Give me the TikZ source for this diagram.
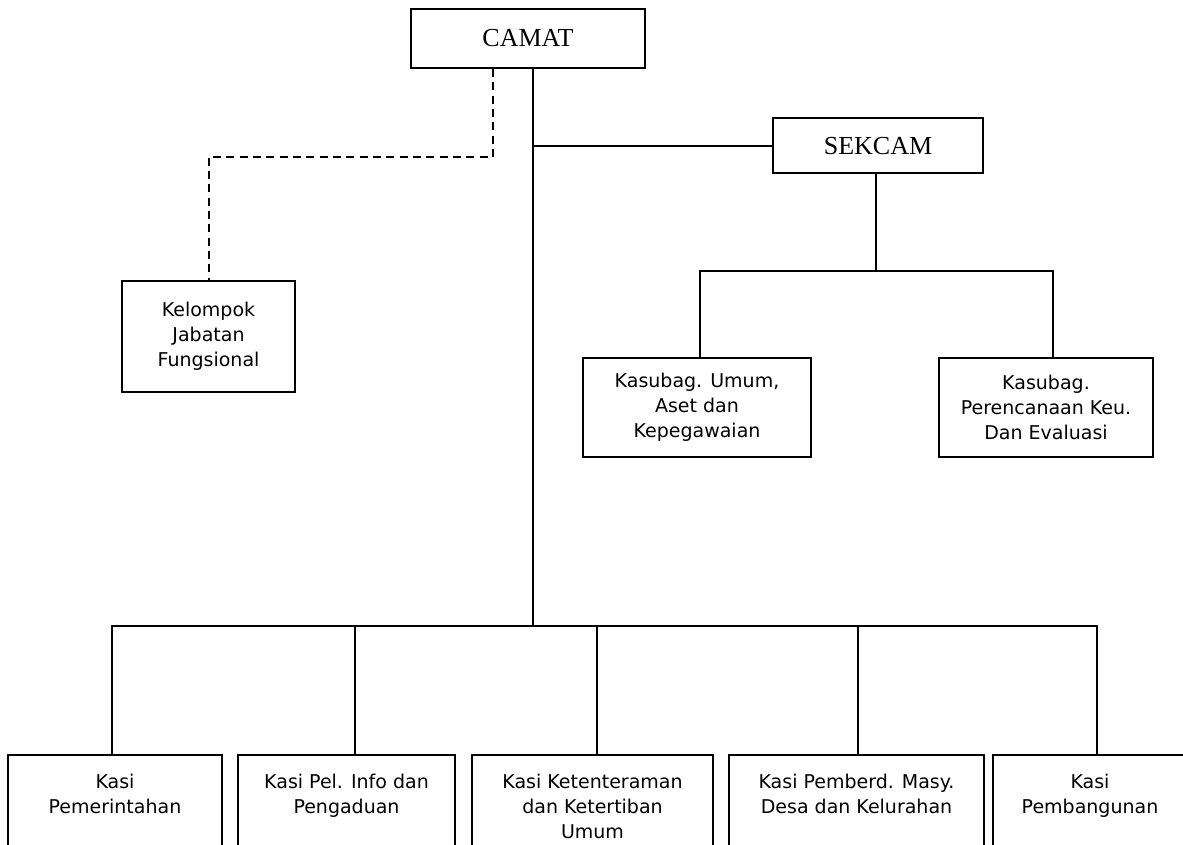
\documentclass[tikz,border=0pt]{standalone}
\usepackage{fontspec}
\newfontfamily\serifF{Liberation Serif}
\newfontfamily\sansF{DejaVu Sans}
\begin{document}
\begin{tikzpicture}[x=0.75pt,y=-0.75pt,
  line width=1.5pt,
  box/.style={draw, line width=1.5pt, inner sep=0pt},
  sz/.style 2 args={minimum width=#1*0.75pt, minimum height=#2*0.75pt},
  serifbox/.style={box, font=\serifF\fontsize{19.5}{23}\selectfont},
  sansbox/.style={box, align=center, font=\sansF\fontsize{14.25}{18.75}\selectfont},
  lowbox/.style={box, anchor=north},
  txt/.style={inner sep=0pt, align=center, anchor=north, font=\sansF\fontsize{14.25}{18.75}\selectfont},
  dsh/.style={dash pattern=on 6pt off 4pt}
]
\useasboundingbox (0,0) rectangle (1183,845);

% top level
\node[serifbox, sz={234}{59}] (camat) at (528,38.5) {CAMAT};
\node[serifbox, sz={210}{55}] (sek) at (878,146) {SEKCAM};
\node[sansbox, sz={173}{111}] (kel) at (208.5,336.5) {Kelompok\\Jabatan\\Fungsional};
\node[sansbox, sz={228}{99}] (ku) at (697,407.5) {Kasubag. Umum,\\Aset dan\\Kepegawaian};
\node[sansbox, sz={214}{99}] (kp) at (1046,407.5) {Kasubag.\\Perencanaan Keu.\\Dan Evaluasi};

% bottom boxes (cut by the page edge)
\node[lowbox, sz={214}{140}] (b1) at (115,754) {};
\node[lowbox, sz={217}{140}] (b2) at (346.5,754) {};
\node[lowbox, sz={241}{140}] (b3) at (592.5,754) {};
\node[lowbox, sz={255}{140}] (b4) at (856.5,754) {};
\node[lowbox, sz={194}{140}] (b5) at (1090,754) {};
\node[txt] (t1) at ([yshift=-14.25pt]b1.north) {Kasi\\Pemerintahan};
\node[txt] (t2) at ([yshift=-14.25pt]b2.north) {Kasi Pel. Info dan\\Pengaduan};
\node[txt] (t3) at ([yshift=-14.25pt]b3.north) {Kasi Ketenteraman\\dan Ketertiban\\Umum};
\node[txt] (t4) at ([yshift=-14.25pt]b4.north) {Kasi Pemberd. Masy.\\Desa dan Kelurahan};
\node[txt] (t5) at ([yshift=-14.25pt]b5.north) {Kasi\\Pembangunan};

% connectors
\coordinate (mb) at (533,626);
\draw (camat.south -| mb) -- (mb);
\draw (sek.west) -- (sek.west -| mb);
\coordinate (dc) at (493,157);
\draw[dsh] (camat.south -| dc) -- (dc) -| (kel.north);

\coordinate (sb) at (876,271);
\coordinate (sbl) at (700,271);
\coordinate (sbr) at (1053,271);
\draw (sek.south -| sb) -- (sb);
\draw (ku.north -| sbl) -- (sbl) -- (sbr) -- (kp.north -| sbr);

\coordinate (v1) at (112,626);
\coordinate (v2) at (355,626);
\coordinate (v3) at (597,626);
\coordinate (v4) at (858,626);
\coordinate (v5) at (1097,626);
\draw (b1.north -| v1) -- (v1) -- (v5) -- (b5.north -| v5);
\draw (v2) -- (b2.north -| v2);
\draw (v3) -- (b3.north -| v3);
\draw (v4) -- (b4.north -| v4);
\end{tikzpicture}
\end{document}
